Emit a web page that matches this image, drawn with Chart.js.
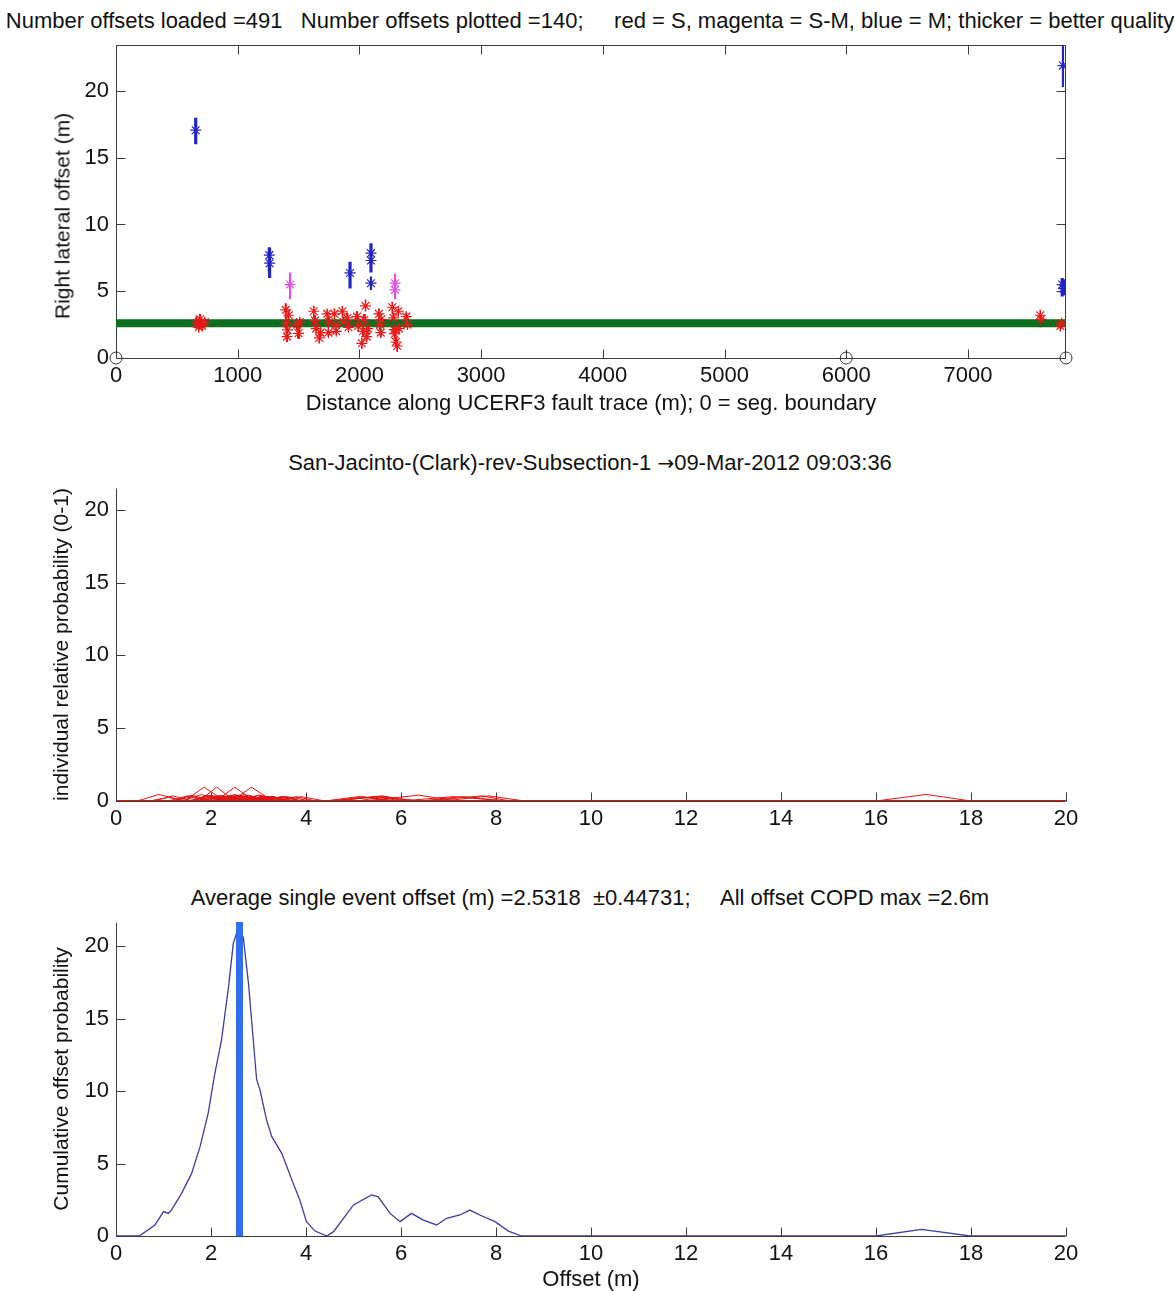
<!DOCTYPE html>
<html>
<head>
<meta charset="utf-8">
<script src="https://cdn.jsdelivr.net/npm/chart.js@4.4.1/dist/chart.umd.min.js"></script>
<style>
  html, body { margin: 0; padding: 0; background: #fff; width: 1175px; height: 1291px; overflow: hidden; }
  .panel { position: absolute; left: 0; }
  .ttl { position: absolute; white-space: pre; font-family: "Liberation Sans", Arial, sans-serif;
         font-size: 22px; line-height: 1; color: #111; transform: translateX(-50%); }
  .ylab { position: absolute; white-space: pre; font-family: "Liberation Sans", Arial, sans-serif;
          font-size: 21px; line-height: 1; color: #111; transform: translate(-50%, -50%) rotate(-90deg); }
  .arr { font-family: "DejaVu Sans", sans-serif; font-size: 20px; }
</style>
</head>
<body>
<div class="ttl" style="left:590px; top:10px">Number offsets loaded =491   Number offsets plotted =140;     red = S, magenta = S-M, blue = M; thicker = better quality</div>
<div class="ttl" style="left:590px; top:452px">San-Jacinto-(Clark)-rev-Subsection-1 <span class="arr">→</span>09-Mar-2012 09:03:36</div>
<div class="ttl" style="left:590px; top:887px">Average single event offset (m) =2.5318  ±0.44731;     All offset COPD max =2.6m</div>

<canvas id="cA" class="panel" style="top:0px" width="1175" height="420"></canvas>
<canvas id="cB" class="panel" style="top:430px" width="1175" height="420"></canvas>
<canvas id="cC" class="panel" style="top:860px" width="1175" height="431"></canvas>
<div class="ylab" style="left:62px; top:216px">Right lateral offset (m)</div>

<script>
// ---- Offsets measured along the fault trace ----
// distance along trace (m), offset (m), offset range low/high (m), class, quality (1-3), peak of individual PDF
const offDist = [
  655, 1260, 1262, 1923, 2095, 2095, 2095, 7781, 7775, 7785,
  1430, 2293, 2293,
  660, 690, 710, 730, 680,
  1395, 1400, 1405, 1410, 1420,
  1490, 1500, 1510,
  1625, 1635, 1645, 1670, 1680,
  1735, 1745, 1750,
  1795, 1805, 1810,
  1860, 1870, 1900, 1910,
  1980, 1990, 2020, 2030, 2040, 2050, 2060, 2070,
  2160, 2170, 2175, 2180,
  2270, 2280, 2285, 2290, 2300, 2310, 2320, 2325,
  2385, 2395,
  7595, 7600, 7760, 7770
];
const offVal = [
  17.06, 7.7, 7.1, 6.37, 7.85, 7.3, 5.6, 21.9, 5.5, 5.2,
  5.5, 5.6, 5.1,
  2.6, 2.9, 2.4, 2.7, 2.3,
  3.6, 2.6, 1.6, 2.1, 3.2,
  2.5, 1.85, 2.7,
  3.5, 2.8, 2.2, 1.5, 1.9,
  3.3, 1.9, 2.7,
  3.3, 2.5, 2.0,
  3.5, 2.7, 3.0, 2.3,
  3.1, 2.4, 1.1, 2.0, 2.85, 3.9, 1.6, 2.2,
  3.3, 2.5, 1.9, 2.9,
  3.8, 3.0, 2.12, 1.8, 1.2, 0.9, 3.5, 2.2,
  3.1, 2.5,
  3.2, 2.9, 2.4, 2.6
];
const offLo = [
  16.0, 6.5, 6.0, 5.2, 6.9, 6.4, 5.1, 20.3, 4.6, 4.7,
  4.4, 4.6, 4.4,
  2.2, 2.5, 2.1, 2.3, 2.0,
  3.0, 2.2, 1.2, 1.7, 2.7,
  2.1, 1.45, 2.3,
  3.0, 2.4, 1.9, 1.1, 1.5,
  2.9, 1.6, 2.4,
  2.9, 2.2, 1.7,
  3.1, 2.4, 2.6, 2.0,
  2.7, 2.0, 0.7, 1.6, 2.45, 3.5, 1.2, 1.8,
  2.9, 2.1, 1.6, 2.5,
  3.3, 2.6, 1.75, 1.4, 0.8, 0.45, 3.1, 1.8,
  2.7, 2.2,
  2.3, 2.6, 2.0, 2.3
];
const offHi = [
  18.0, 8.3, 8.2, 7.2, 8.6, 8.2, 6.1, 24.0, 6.0, 5.9,
  6.4, 6.3, 5.9,
  3.1, 3.3, 2.8, 3.0, 2.7,
  4.1, 3.1, 2.0, 2.5, 3.6,
  2.9, 2.3, 3.0,
  3.9, 3.2, 2.6, 1.9, 2.3,
  3.6, 2.4, 3.1,
  3.7, 2.9, 2.3,
  3.9, 3.1, 3.4, 2.7,
  3.5, 2.8, 1.5, 2.4, 3.3, 4.4, 2.0, 2.6,
  3.7, 2.9, 2.3, 3.3,
  4.2, 3.4, 2.5, 2.2, 1.6, 1.45, 3.9, 2.6,
  3.4, 2.9,
  3.6, 3.2, 2.7, 2.9
];
const offClass = [
  'M', 'M', 'M', 'M', 'M', 'M', 'M', 'M', 'M', 'M',
  'SM', 'SM', 'SM',
  'S', 'S', 'S', 'S', 'S',
  'S', 'S', 'S', 'S', 'S',
  'S', 'S', 'S',
  'S', 'S', 'S', 'S', 'S',
  'S', 'S', 'S',
  'S', 'S', 'S',
  'S', 'S', 'S', 'S',
  'S', 'S', 'S', 'S', 'S', 'S', 'S', 'S',
  'S', 'S', 'S', 'S',
  'S', 'S', 'S', 'S', 'S', 'S', 'S', 'S',
  'S', 'S',
  'S', 'S', 'S', 'S'
];
const offQual = [
  3, 3, 3, 3, 3, 3, 2, 2, 3, 3,
  2, 2, 2,
  2, 2, 2, 1, 1,
  2, 2, 2, 1, 1,
  3, 3, 1,
  1, 2, 1, 1, 1,
  1, 1, 2,
  1, 2, 1,
  1, 2, 2, 1,
  2, 1, 1, 2, 3, 1, 1, 2,
  1, 2, 2, 1,
  1, 2, 3, 2, 2, 1, 1, 1,
  2, 1,
  1, 1, 1, 1
];
const pdfPeak = [
  0.45, 0.35, 0.3, 0.4, 0.35, 0.3, 0.3, 0.4, 0.3, 0.3,
  0.3, 0.35, 0.3,
  0.35, 0.3, 0.4, 0.3, 0.35,
  0.3, 0.4, 0.4, 0.35, 0.3,
  0.95, 0.95, 0.3,
  0.3, 0.4, 0.3, 0.35, 0.3,
  0.3, 0.3, 0.35,
  0.3, 0.4, 0.3,
  0.3, 0.45, 0.4, 0.3,
  0.35, 0.3, 0.25, 0.4, 0.95, 0.3, 0.3, 0.4,
  0.3, 0.45, 0.4, 0.3,
  0.3, 0.4, 0.95, 0.45, 0.35, 0.45, 0.3, 0.3,
  0.35, 0.3,
  0.3, 0.3, 0.3, 0.3
];

// Segment boundaries along the trace (m)
const segBounds = [0, 6000, 7806];
// Preferred single-event offset (COPD maximum, m)
const copdMax = 2.6;

// Cumulative offset probability density
const cumX = [0, 0.49, 0.82, 1.0, 1.10, 1.17, 1.38, 1.59, 1.77, 1.94, 2.08, 2.22, 2.37, 2.47, 2.58,
  2.68, 2.79, 2.96, 3.03, 3.17, 3.28, 3.49, 3.73, 3.87, 4.01, 4.19, 4.44, 4.58, 5.0, 5.38,
  5.52, 5.77, 5.98, 6.22, 6.47, 6.75, 6.96, 7.24, 7.45, 7.66, 7.98, 8.26, 8.54, 16.0, 16.96, 17.98, 20];
const cumY = [0, 0, 0.76, 1.68, 1.56, 1.8, 2.94, 4.3, 6.16, 8.46, 11.2, 13.5, 17.2, 20.2, 21.3,
  20.6, 17.4, 10.8, 10.1, 8.0, 6.85, 5.7, 3.63, 2.48, 0.99, 0.34, 0, 0.3, 2.14, 2.83,
  2.7, 1.56, 0.99, 1.56, 1.1, 0.76, 1.22, 1.45, 1.79, 1.45, 0.99, 0.34, 0, 0, 0.46, 0, 0];

// Tick labels
const distTicks = [0, 1000, 2000, 3000, 4000, 5000, 6000, 7000];
const offsetTicks = [0, 5, 10, 15, 20];
const probXTicks = [0, 2, 4, 6, 8, 10, 12, 14, 16, 18, 20];
const probYTicks = [0, 5, 10, 15, 20];

// ---- styling ----
const FONT = '"Liberation Sans", Arial, sans-serif';
const FS = 22;
const classColor = { S: 'rgb(235,25,25)', SM: 'rgb(225,80,225)', M: 'rgb(35,35,200)' };
const qualWidth = { 1: 1.4, 2: 2.2, 3: 3.2 };
const AXIS = '#3c3c3c';

Chart.defaults.font.family = FONT;
Chart.defaults.color = '#111';

// Axes drawn MATLAB-style: thin lines with ticks pointing into the plot
const inwardAxes = {
  id: 'inwardAxes',
  beforeDatasetsDraw(chart, args, opts) {
    const { ctx, chartArea: a, scales } = chart;
    const L = 9;
    const l = a.left + 0.5, r = a.right - 0.5, t = a.top + 0.5, b = a.bottom + 0.5;
    ctx.save();
    ctx.strokeStyle = AXIS;
    ctx.lineWidth = 1;
    ctx.beginPath();
    ctx.moveTo(l, t); ctx.lineTo(l, b); ctx.lineTo(r, b);
    if (opts.box) { ctx.lineTo(r, t); ctx.lineTo(l, t); }
    scales.x.ticks.forEach(tk => {
      const p = Math.round(scales.x.getPixelForValue(tk.value)) + 0.5;
      ctx.moveTo(p, b); ctx.lineTo(p, b - L);
      if (opts.box) { ctx.moveTo(p, t); ctx.lineTo(p, t + L); }
    });
    scales.y.ticks.forEach(tk => {
      const p = Math.round(scales.y.getPixelForValue(tk.value)) + 0.5;
      ctx.moveTo(l, p); ctx.lineTo(l + L, p);
      if (opts.box) { ctx.moveTo(r, p); ctx.lineTo(r - L, p); }
    });
    ctx.stroke();
    ctx.restore();
  }
};

const plainNum = v => String(v);

function axisX(min, max, ticks, height, title) {
  return {
    type: 'linear', min, max,
    afterBuildTicks: s => { s.ticks = ticks.map(v => ({ value: v })); },
    afterFit: s => { s.height = height; },
    grid: { display: false, drawTicks: false },
    border: { display: false },
    ticks: { font: { size: FS }, padding: 5, color: '#111', maxRotation: 0, autoSkip: false, callback: plainNum },
    title: title
  };
}
function axisY(min, max, ticks, label) {
  return {
    type: 'linear', min, max,
    afterBuildTicks: s => { s.ticks = ticks.map(v => ({ value: v })); },
    afterFit: s => { s.width = 116; },
    grid: { display: false, drawTicks: false },
    border: { display: false },
    ticks: { font: { size: FS }, padding: 7, color: '#111', autoSkip: false, callback: plainNum },
    title: label
      ? { display: true, text: label, font: { size: 21 }, color: '#111', padding: { top: 50 } }
      : { display: false }
  };
}

const baseOpts = (padTop) => ({
  responsive: false,
  animation: false,
  devicePixelRatio: 1,
  layout: { padding: { top: padTop, right: 109, left: 0, bottom: 0 } },
  plugins: { legend: { display: false }, tooltip: { enabled: false }, title: { display: false } },
  events: []
});

// ---- Panel A: offsets along the fault trace ----
const barGroups = {};
offDist.forEach((d, i) => {
  const key = offClass[i] + '|' + offQual[i];
  (barGroups[key] = barGroups[key] || []).push({ x: d, y: offLo[i] }, { x: d, y: offHi[i] }, { x: d, y: null });
});
const dsA = [];
Object.keys(barGroups).forEach(key => {
  const [cls, q] = key.split('|');
  dsA.push({
    data: barGroups[key], showLine: true, spanGaps: false, pointRadius: 0,
    borderColor: classColor[cls], borderWidth: qualWidth[q], order: cls === 'S' ? 4 : 3
  });
});
dsA.push({
  data: [{ x: 0, y: copdMax }, { x: segBounds[segBounds.length - 1], y: copdMax }],
  showLine: true, pointRadius: 0, borderColor: 'rgb(10,110,30)', borderWidth: 8, order: 2
});
['S', 'SM', 'M'].forEach(cls => {
  dsA.push({
    data: offDist.map((d, i) => offClass[i] === cls ? { x: d, y: offVal[i] } : null).filter(p => p),
    pointStyle: 'star', pointRadius: 5.5, borderWidth: 1.2,
    borderColor: classColor[cls], backgroundColor: classColor[cls],
    order: cls === 'S' ? 1 : 0
  });
});
dsA.push({
  data: segBounds.map(d => ({ x: d, y: 0 })),
  pointStyle: 'circle', pointRadius: 6, borderWidth: 1, borderColor: '#333',
  backgroundColor: 'rgba(0,0,0,0)', clip: false, order: -1
});

new Chart(document.getElementById('cA'), {
  type: 'scatter',
  data: { datasets: dsA },
  options: Object.assign(baseOpts(45), {
    scales: {
      x: axisX(0, segBounds[segBounds.length - 1], distTicks, 62,
        { display: true, text: 'Distance along UCERF3 fault trace (m); 0 = seg. boundary',
          font: { size: FS }, color: '#111', padding: { bottom: 3 } }),
      y: axisY(0, 23.44, offsetTicks, null)
    },
    plugins: Object.assign(baseOpts(45).plugins, { inwardAxes: { box: true } })
  }),
  plugins: [inwardAxes]
});

// ---- Panel B: individual offset probability curves ----
const dsB = offDist.map((d, i) => ({
  data: [{ x: 0, y: 0 }, { x: offLo[i], y: 0 }, { x: offVal[i], y: pdfPeak[i] }, { x: offHi[i], y: 0 }, { x: 20, y: 0 }],
  showLine: true, pointRadius: 0, borderColor: 'rgb(225,20,20)', borderWidth: 1
}));

new Chart(document.getElementById('cB'), {
  type: 'scatter',
  data: { datasets: dsB },
  options: Object.assign(baseOpts(58), {
    scales: {
      x: axisX(0, 20, probXTicks, 49, { display: false }),
      y: axisY(0, 21.5, probYTicks, 'individual relative probability (0-1)')
    },
    plugins: Object.assign(baseOpts(58).plugins, { inwardAxes: { box: false } })
  }),
  plugins: [inwardAxes]
});

// ---- Panel C: cumulative offset probability ----
new Chart(document.getElementById('cC'), {
  type: 'scatter',
  data: {
    datasets: [
      {
        data: [{ x: copdMax, y: 0 }, { x: copdMax, y: 21.66 }],
        showLine: true, pointRadius: 0, borderColor: 'rgb(50,110,240)', borderWidth: 7, order: 0
      },
      {
        data: cumX.map((x, i) => ({ x, y: cumY[i] })),
        showLine: true, pointRadius: 0, borderColor: 'rgb(60,60,160)', borderWidth: 1.3, order: 1
      }
    ]
  },
  options: Object.assign(baseOpts(62), {
    scales: {
      x: axisX(0, 20, probXTicks, 55,
        { display: true, text: 'Offset (m)', font: { size: FS, lineHeight: 1.0 }, color: '#111', padding: { bottom: 0 } }),
      y: axisY(0, 21.66, probYTicks, 'Cumulative offset probability')
    },
    plugins: Object.assign(baseOpts(62).plugins, { inwardAxes: { box: false } })
  }),
  plugins: [inwardAxes]
});
</script>
</body>
</html>
